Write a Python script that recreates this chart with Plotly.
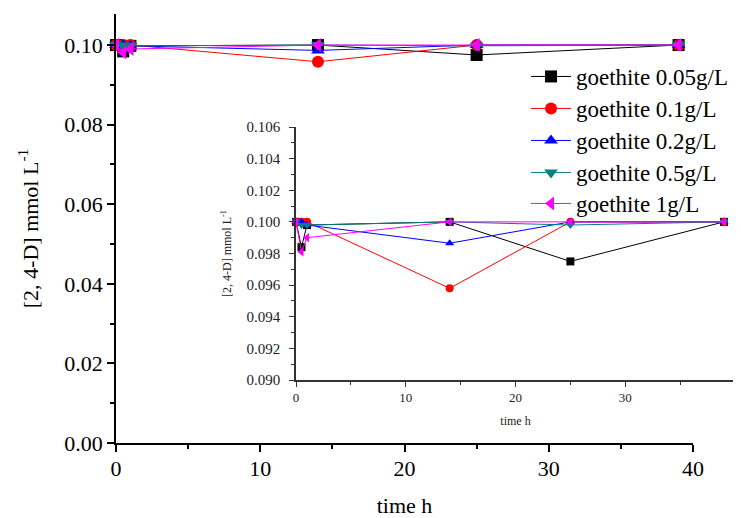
import plotly.graph_objects as go

times = [0, 0.5, 1, 14, 25, 39]
names = ["goethite 0.05g/L", "goethite 0.1g/L", "goethite 0.2g/L", "goethite 0.5g/L", "goethite 1g/L"]
c_005 = [0.1000, 0.0984, 0.0998, 0.1000, 0.0975, 0.1000]
c_01 = [0.1000, 0.1000, 0.1000, 0.0958, 0.1000, 0.1000]
c_02 = [0.1000, 0.1000, 0.0998, 0.09865, 0.1000, 0.1000]
c_05 = [0.1000, 0.0998, 0.0998, 0.1000, 0.0998, 0.1000]
c_1 = [0.1000, 0.0981, 0.0990, 0.1000, 0.1000, 0.1000]
series = [c_005, c_01, c_02, c_05, c_1]
colors = ["#000000", "#ff0000", "#0000ff", "#008080", "#ff00ff"]
symbols = ["square", "circle", "triangle-up", "triangle-down", "triangle-left"]

OFF = 8  # browser body margin
W, H = 741 - OFF, 518 - OFF
def fx(p): return (p - OFF) / W
def fy(p): return 1 - (p - OFF) / H

serif = "Liberation Serif"
def F(size, color="black"):
    return dict(family=serif, size=size, color=color)

legend_ids = ["legend", "legend2", "legend3", "legend4", "legend5"]
legend_centers = [78, 110, 142, 174, 205]

fig = go.Figure()
for i, (nm, ys) in enumerate(zip(names, series)):
    fig.add_trace(go.Scatter(
        x=times, y=ys, name=nm, mode="lines+markers", legendgroup=nm, legend=legend_ids[i],
        line=dict(color=colors[i], width=1),
        marker=dict(symbol=symbols[i], size=12, color=colors[i]),
        cliponaxis=False, xaxis="x", yaxis="y"))
for i, (nm, ys) in enumerate(zip(names, series)):
    fig.add_trace(go.Scatter(
        x=times, y=ys, name=nm, mode="lines+markers", legendgroup=nm, showlegend=False,
        line=dict(color=colors[i], width=1),
        marker=dict(symbol=symbols[i], size=8, color=colors[i]),
        cliponaxis=False, xaxis="x2", yaxis="y2"))

gray = "#333333"
legends = {}
for i, lid in enumerate(legend_ids):
    legends[lid] = dict(x=fx(526), y=fy(legend_centers[i] - 23), xanchor="left", yanchor="top",
                        font=F(23), bgcolor="rgba(0,0,0,0)", itemwidth=40)

fig.update_layout(
    width=W, height=H, margin=dict(l=0, r=0, t=0, b=0),
    paper_bgcolor="white", plot_bgcolor="rgba(0,0,0,0)",
    font=F(14),
    showlegend=True,
    xaxis=dict(domain=[fx(116), fx(693)], range=[0, 40], anchor="y",
               showline=True, linecolor="black", linewidth=1.5, showgrid=False, zeroline=False,
               ticks="outside", ticklen=7, tickwidth=1.5, tickcolor="black", dtick=10, tick0=0,
               minor=dict(ticks="outside", ticklen=4, dtick=5, tickcolor="black", tickwidth=1.5),
               tickfont=F(22), automargin=False, ticklabelstandoff=-2,
               title=dict(text="time h", font=F(22), standoff=20)),
    yaxis=dict(domain=[fy(443), fy(14)], range=[0, 0.1078], anchor="x",
               showline=True, linecolor="black", linewidth=1.5, showgrid=False, zeroline=False,
               ticks="outside", ticklen=7, tickwidth=1.5, tickcolor="black", dtick=0.02, tick0=0,
               tickformat=".2f",
               minor=dict(ticks="outside", ticklen=4, dtick=0.01, tickcolor="black", tickwidth=1.5),
               tickfont=F(22), automargin=False,
               title=dict(text="[2, 4-D] mmol L<sup>-1</sup>", font=F(22), standoff=20)),
    xaxis2=dict(domain=[fx(296), fx(735)], range=[0, 40], anchor="y2",
                showline=True, linecolor=gray, linewidth=1.5, showgrid=False, zeroline=False,
                ticks="outside", ticklen=5, tickwidth=1, tickcolor=gray, dtick=10, tick0=0,
                minor=dict(ticks="outside", ticklen=3, dtick=5, tickcolor=gray, tickwidth=1),
                tickfont=F(13, "#222222"), automargin=False,
                title=dict(text="time h", font=F(12, "#222222"), standoff=12)),
    yaxis2=dict(domain=[fy(380), fy(127)], range=[0.090, 0.106], anchor="x2",
                showline=True, linecolor=gray, linewidth=1.5, showgrid=False, zeroline=False,
                ticks="outside", ticklen=5, tickwidth=1, tickcolor=gray, dtick=0.002, tick0=0.09,
                tickformat=".3f", ticklabelstandoff=6,
                minor=dict(ticks="outside", ticklen=3, dtick=0.001, tickcolor=gray, tickwidth=1),
                tickfont=F(15, "#222222"), automargin=False,
                title=dict(text="[2, 4-D] mmol L<sup>-1</sup>", font=F(12, "#222222"), standoff=12)),
    **legends,
)
fig.write_html("out.html")
